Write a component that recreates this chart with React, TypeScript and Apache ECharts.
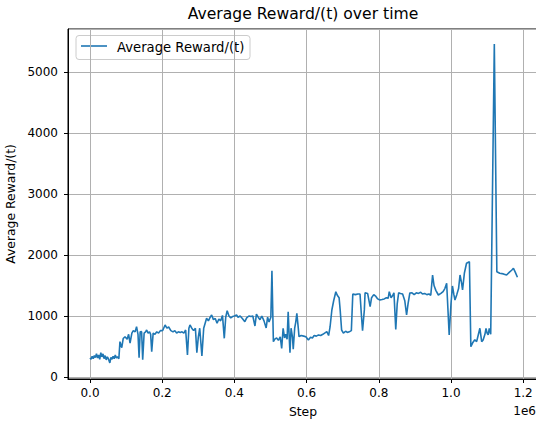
import React, { useEffect, useRef } from "react";
import * as echarts from "echarts";

// Steps (environment steps) and average reward values
const steps: number[] = [
  0, 3000, 6000, 9000, 12000, 15000, 18000, 21000, 24000, 27000, 30000, 33000, 36000, 39000, 42000, 45000, 48000, 51000, 55000, 58000, 61000, 64000, 67000, 70000, 73000, 76000, 80000,
  83000, 88000, 92000, 97000, 103000, 107000, 111000, 116000, 120000, 125000, 129000, 133000, 136000, 139000, 143000, 146000, 150000, 154000, 157000, 161000, 165000, 168000, 171000, 175000, 180000, 185000, 190000, 195000, 200000,
  202000, 208000, 213000, 218000, 224000, 230000, 235000, 240000, 245000, 250000, 255000, 260000, 265000, 270000, 274000, 277000, 282000, 287000, 292000, 296000, 300000, 304000, 310000, 315000, 320000, 323000, 328000, 333000, 337000, 342000, 347000, 352000, 357000, 362000, 367000, 372000, 376000, 380000, 385000, 390000, 395000, 400000, 406000,
  410000, 416000, 422000, 429000, 434000, 440000, 446000, 451000, 457000, 461000, 466000, 471000, 476000, 482000, 488000, 492000, 496000, 501000, 504000, 508000, 512000, 517000, 522000, 527000, 531000, 535000, 539000, 542000, 546000, 549000, 552000, 554000, 557000, 561000, 563000, 567000, 570000, 573000, 577000, 579000,
  585000, 592000, 598000, 605000, 611000, 616000, 621000, 627000, 633000, 639000, 645000, 650000, 656000, 661000, 665000, 670000, 675000, 681000, 685000, 690000, 693000, 697000, 702000, 708000, 713000, 718000, 724000, 728000, 735000, 742000, 748000, 752000, 755000, 760000, 762000, 769000, 776000, 780000, 786000, 792000, 797000,
  803000, 809000, 815000, 821000, 826000, 829000, 834000, 838000, 842000, 847000, 851000, 855000, 860000, 866000, 872000, 877000, 881000, 886000, 892000, 898000, 904000, 910000, 916000, 921000, 927000, 933000, 939000, 944000, 949000, 953000, 958000, 965000, 972000, 978000, 983000, 988000, 995000,
  1000000, 1004000, 1008000, 1011000, 1016000, 1021000, 1025000, 1029000, 1032000, 1037000, 1043000, 1051000, 1055000, 1060000, 1066000, 1071000, 1076000, 1080000, 1085000, 1089000, 1094000, 1097000, 1100000, 1103000, 1106000, 1110000, 1120000, 1127000, 1135000, 1145000, 1154000, 1162000, 1168000, 1173000, 1178000, 1184000,
];

const rewards: number[] = [
  310, 290, 340, 300, 350, 320, 380, 310, 360, 290, 400, 330, 380, 300, 350, 280, 330, 300, 230, 320, 290, 340, 300, 360, 310, 330, 300,
  580, 480, 630, 660, 620, 700, 557, 720, 760, 740, 825, 700, 316, 740, 743, 285, 720, 740, 770, 720, 740, 700, 415, 720, 700, 740, 720, 760, 760,
  770, 852, 800, 820, 760, 740, 760, 721, 740, 730, 740, 720, 770, 360, 800, 852, 800, 760, 800, 399, 650, 800, 344, 800, 900, 962, 920, 980, 1016, 940, 960, 880, 950, 920, 1010, 634, 980, 1087, 1000, 970, 990, 1000, 1016,
  980, 1000, 960, 907, 970, 1000, 990, 1000, 836, 1030, 980, 940, 1000, 920, 803, 980, 900, 980, 1743, 579, 620, 640, 600, 660, 470, 798, 640, 700, 620, 1071, 640, 399, 800, 650, 454, 800, 900, 1044, 800, 661,
  680, 670, 660, 607, 650, 640, 680, 670, 690, 680, 700, 720, 743, 680, 820, 1098, 1250, 1398, 1340, 1300, 1100, 770, 720, 750, 730, 740, 760, 1361, 1350, 1360, 1360, 1000, 759, 1100, 1382, 1370, 1153, 1300, 1350, 1320, 1280,
  1262, 1270, 1280, 1300, 1290, 1398, 1300, 1330, 1380, 781, 1200, 1380, 1370, 1360, 1250, 1016, 1200, 1377, 1380, 1350, 1380, 1370, 1390, 1360, 1370, 1350, 1360, 1340, 1672, 1500, 1420, 1344, 1370, 1400, 1450, 1536, 689,
  1200, 1492, 1350, 1262, 1350, 1450, 1672, 1550, 1426, 1700, 1864, 1890, 497, 560, 610, 579, 700, 798, 579, 607, 700, 798, 720, 689, 798, 700, 5459, 1726, 1700, 1690, 1672, 1720, 1750, 1782, 1720, 1634,
];

const titleText = "Average Reward/(t) over time";
const seriesName = "Average Reward/(t)";
const xAxisName = "Step";
const yAxisName = "Average Reward/(t)";
const xOffsetText = "1e6";

const FONT = "DejaVu Sans";
const LINE_COLOR = "#1f77b4";

export default function App() {
  const ref = useRef<HTMLDivElement>(null);
  useEffect(() => {
    if (!ref.current) return;
    const chart = echarts.init(ref.current, undefined, { renderer: "svg" });
    chart.setOption({
      animation: false,
      backgroundColor: "#ffffff",
      textStyle: { fontFamily: FONT },
      grid: {
        left: 68,
        top: 29,
        right: -2,
        bottom: 44,
        show: true,
        borderColor: "#000",
        borderWidth: 1,
        backgroundColor: "transparent",
        containLabel: false,
        outerBoundsMode: "none",
      },
      xAxis: {
        type: "value",
        min: -60900,
        max: 1241000,
        splitNumber: 6,
        name: xAxisName,
        nameLocation: "middle",
        nameGap: 26,
        nameTextStyle: { fontFamily: FONT, fontSize: 12.4, color: "#000" },
        axisLine: { show: true, onZero: false, lineStyle: { color: "#000", width: 1 } },
        axisTick: { show: true, length: 4, lineStyle: { color: "#000", width: 1 } },
        axisLabel: {
          show: true,
          margin: 8,
          fontFamily: FONT,
          fontSize: 12,
          color: "#000",
          showMinLabel: false,
          showMaxLabel: false,
          formatter: (v: number) => (v / 1e6).toFixed(1),
        },
        splitLine: { show: true, lineStyle: { color: "#b0b0b0", width: 1 } },
      },
      yAxis: {
        type: "value",
        min: -33,
        max: 5705,
        splitNumber: 6,
        name: yAxisName,
        nameLocation: "middle",
        nameGap: 47,
        nameTextStyle: { fontFamily: FONT, fontSize: 12.4, color: "#000" },
        axisLine: { show: true, onZero: false, lineStyle: { color: "#000", width: 1 } },
        axisTick: { show: true, length: 4, lineStyle: { color: "#000", width: 1 } },
        axisLabel: {
          show: true,
          margin: 10,
          fontFamily: FONT,
          fontSize: 12,
          color: "#000",
          showMinLabel: false,
          showMaxLabel: false,
          formatter: (v: number) => String(Math.round(v)),
        },
        splitLine: { show: true, lineStyle: { color: "#b0b0b0", width: 1 } },
      },
      graphic: [
        {
          type: "text",
          x: 303,
          y: 14,
          style: {
            text: titleText,
            fontFamily: FONT,
            fontSize: 15.6,
            fill: "#000",
            textAlign: "center",
            textVerticalAlign: "middle",
          },
        },
        {
          type: "text",
          x: 536,
          y: 411,
          style: {
            text: xOffsetText,
            fontFamily: FONT,
            fontSize: 12,
            fill: "#000",
            textAlign: "right",
            textVerticalAlign: "middle",
          },
        },
        {
          type: "group",
          z: 100,
          children: [
            {
              type: "rect",
              shape: { x: 76, y: 35.5, width: 174, height: 24, r: 3 },
              style: { fill: "rgba(255,255,255,0.8)", stroke: "#cccccc", lineWidth: 1 },
            },
            {
              type: "line",
              shape: { x1: 81, y1: 46, x2: 107, y2: 46 },
              style: { stroke: LINE_COLOR, lineWidth: 1.6 },
            },
            {
              type: "text",
              x: 117,
              y: 47,
              style: {
                text: seriesName,
                fontFamily: FONT,
                fontSize: 13.2,
                fill: "#000",
                textAlign: "left",
                textVerticalAlign: "middle",
              },
            },
          ],
        },
      ],
      series: [
        {
          name: seriesName,
          type: "line",
          symbol: "none",
          showSymbol: false,
          lineStyle: { color: LINE_COLOR, width: 1.6 },
          itemStyle: { color: LINE_COLOR },
          data: steps.map((s, i) => [s, rewards[i]]),
        },
      ],
    });
    return () => chart.dispose();
  }, []);
  return (
    <div
      ref={ref}
      style={{ position: "absolute", left: 0, top: 0, width: 536, height: 423 }}
    />
  );
}
